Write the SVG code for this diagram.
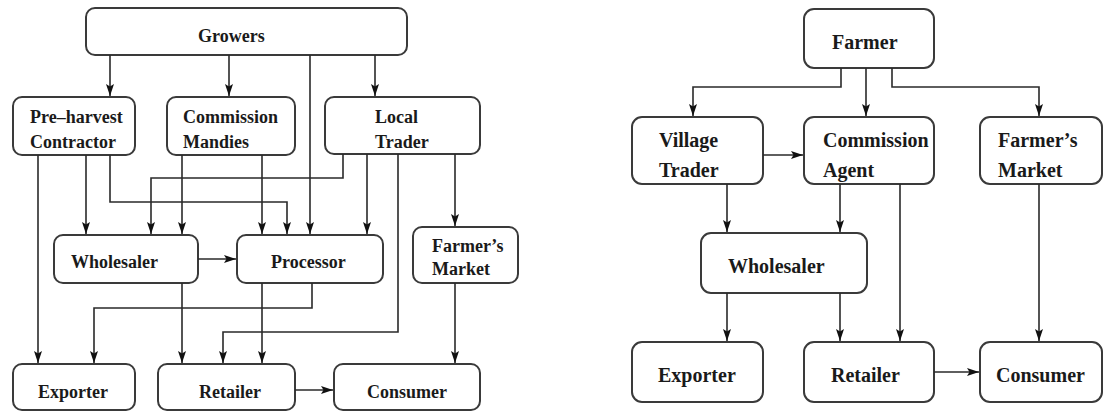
<svg xmlns="http://www.w3.org/2000/svg" width="1104" height="412" viewBox="0 0 1104 412">
<style>
.box{fill:#fff;stroke:#3a3a3a;stroke-width:2}
.t{font-family:"Liberation Serif","Times New Roman",serif;font-weight:bold;font-size:18px;fill:#1a1a1a}
.tr{font-family:"Liberation Serif","Times New Roman",serif;font-weight:bold;font-size:20px;fill:#1a1a1a}
.c{fill:none;stroke:#2a2a2a;stroke-width:1.6}
</style>
<defs>
<marker id="ah" markerUnits="userSpaceOnUse" markerWidth="13" markerHeight="9" refX="12" refY="4.5" orient="auto">
<path d="M0,0.5 L12,4.5 L0,8.5 L2.5,4.5 z" fill="#111"/>
</marker>
</defs>
<rect width="1104" height="412" fill="#fff"/>
<g id="growers"><rect class="box" x="86" y="8" width="321" height="47" rx="9"/><text class="t" x="198" y="42">Growers</text></g>
<g id="preharvest"><rect class="box" x="13" y="97" width="122" height="58" rx="9"/><text class="t" x="30" y="123">Pre–harvest</text><text class="t" x="30" y="148">Contractor</text></g>
<g id="mandies"><rect class="box" x="167" y="97" width="128" height="58" rx="9"/><text class="t" x="183" y="123">Commission</text><text class="t" x="183" y="148">Mandies</text></g>
<g id="localtrader"><rect class="box" x="325" y="97" width="155" height="57" rx="9"/><text class="t" x="375" y="123">Local</text><text class="t" x="375" y="148">Trader</text></g>
<g id="wholesaler1"><rect class="box" x="54" y="235" width="144" height="48" rx="9"/><text class="t" x="71" y="268">Wholesaler</text></g>
<g id="processor"><rect class="box" x="237" y="235" width="146" height="48" rx="9"/><text class="t" x="271" y="268">Processor</text></g>
<g id="farmersmarket1"><rect class="box" x="413" y="227" width="105" height="56" rx="9"/><text class="t" x="432" y="252">Farmer’s</text><text class="t" x="432" y="275">Market</text></g>
<g id="exporter1"><rect class="box" x="13" y="364" width="122" height="46" rx="9"/><text class="t" x="38" y="398">Exporter</text></g>
<g id="retailer1"><rect class="box" x="158" y="364" width="137" height="46" rx="9"/><text class="t" x="199" y="398">Retailer</text></g>
<g id="consumer1"><rect class="box" x="334" y="364" width="146" height="46" rx="9"/><text class="t" x="367" y="398">Consumer</text></g>
<g id="farmer"><rect class="box" x="804" y="9" width="130" height="59" rx="10"/><text class="tr" x="832" y="49">Farmer</text></g>
<g id="villagetrader"><rect class="box" x="632" y="117" width="131" height="67" rx="10"/><text class="tr" x="659" y="147">Village</text><text class="tr" x="659" y="177">Trader</text></g>
<g id="commissionagent"><rect class="box" x="804" y="117" width="130" height="67" rx="10"/><text class="tr" x="823" y="147">Commission</text><text class="tr" x="823" y="177">Agent</text></g>
<g id="farmersmarket2"><rect class="box" x="980" y="117" width="122" height="67" rx="10"/><text class="tr" x="998" y="147">Farmer’s</text><text class="tr" x="998" y="177">Market</text></g>
<g id="wholesaler2"><rect class="box" x="701" y="233" width="166" height="60" rx="10"/><text class="tr" x="728" y="273">Wholesaler</text></g>
<g id="exporter2"><rect class="box" x="632" y="342" width="131" height="60" rx="10"/><text class="tr" x="658" y="382">Exporter</text></g>
<g id="retailer2"><rect class="box" x="804" y="342" width="130" height="60" rx="10"/><text class="tr" x="831" y="382">Retailer</text></g>
<g id="consumer2"><rect class="box" x="980" y="342" width="122" height="60" rx="10"/><text class="tr" x="996" y="382">Consumer</text></g>
<g id="connectors">
<path class="c" marker-end="url(#ah)" d="M110,55 V96"/>
<path class="c" marker-end="url(#ah)" d="M229,55 V96"/>
<path class="c" marker-end="url(#ah)" d="M375,55 V96"/>
<path class="c" marker-end="url(#ah)" d="M310,55 V234"/>
<path class="c" marker-end="url(#ah)" d="M38,155 V363"/>
<path class="c" marker-end="url(#ah)" d="M86,155 V234"/>
<path class="c" marker-end="url(#ah)" d="M110,155 V202 H287 V234"/>
<path class="c" marker-end="url(#ah)" d="M182,155 V234"/>
<path class="c" marker-end="url(#ah)" d="M262,155 V234"/>
<path class="c" marker-end="url(#ah)" d="M343,154 V178 H151 V234"/>
<path class="c" marker-end="url(#ah)" d="M367,154 V234"/>
<path class="c" marker-end="url(#ah)" d="M398,154 V332 H223 V363"/>
<path class="c" marker-end="url(#ah)" d="M455,154 V226"/>
<path class="c" marker-end="url(#ah)" d="M198,259 H236"/>
<path class="c" marker-end="url(#ah)" d="M262,283 V363"/>
<path class="c" marker-end="url(#ah)" d="M312,283 V308 H94 V363"/>
<path class="c" marker-end="url(#ah)" d="M182,283 V363"/>
<path class="c" marker-end="url(#ah)" d="M455,283 V363"/>
<path class="c" marker-end="url(#ah)" d="M295,390 H333"/>
<path class="c" marker-end="url(#ah)" d="M841,68 V87 H693 V116"/>
<path class="c" marker-end="url(#ah)" d="M866,68 V116"/>
<path class="c" marker-end="url(#ah)" d="M892,68 V87 H1039 V116"/>
<path class="c" marker-end="url(#ah)" d="M763,155 H803"/>
<path class="c" marker-end="url(#ah)" d="M727,184 V232"/>
<path class="c" marker-end="url(#ah)" d="M840,184 V232"/>
<path class="c" marker-end="url(#ah)" d="M900,184 V341"/>
<path class="c" marker-end="url(#ah)" d="M1039,184 V341"/>
<path class="c" marker-end="url(#ah)" d="M727,293 V341"/>
<path class="c" marker-end="url(#ah)" d="M840,293 V341"/>
<path class="c" marker-end="url(#ah)" d="M934,372 H979"/>
</g>
</svg>
